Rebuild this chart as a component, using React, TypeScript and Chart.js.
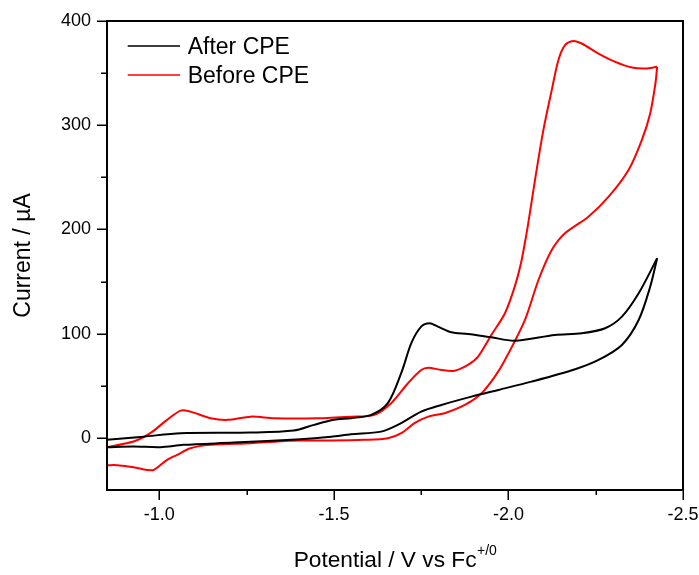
import React, { useEffect, useRef } from "react";
import { Chart, registerables } from "chart.js";

Chart.register(...registerables);

const FONT = '"Liberation Sans", Arial, Helvetica, sans-serif';

// Axis definitions
const xLimits = [-2.5, -0.85];
const yLimits = [-50, 400];
const xMajorTicks = [-1.0, -1.5, -2.0, -2.5];
const xMinorTicks = [-1.25, -1.75, -2.25];
const yMajorTicks = [0, 100, 200, 300, 400];
const yMinorTicks = [50, 150, 250, 350];
const xTitle = "Potential / V vs Fc";
const xTitleSup = "+/0";
const yTitle = "Current / \u00b5A";

// Series
const seriesLabels = ["After CPE", "Before CPE"];
const seriesColors = ["#000000", "#ff0000"];

// After CPE - cathodic (forward) sweep
const afterFwdV = [-0.85, -0.955, -1.061, -1.262, -1.385, -1.443, -1.5, -1.549, -1.607, -1.655, -1.693, -1.722, -1.75, -1.774, -1.798, -1.836, -1.884, -1.951, -2.018, -2.133, -2.21, -2.277, -2.325, -2.373, -2.426];
const afterFwdI = [-1.9, 1.2, 4.5, 5.1, 7.0, 12.5, 17.3, 18.9, 22.1, 33.6, 62.3, 91.1, 106.7, 110, 106.7, 101.3, 99.7, 96.5, 93.3, 98.8, 100.4, 105.2, 116.3, 138.7, 172.3];
// After CPE - return sweep
const afterRevV = [-2.426, -2.406, -2.373, -2.325, -2.258, -2.191, -2.066, -1.971, -1.894, -1.808, -1.75, -1.683, -1.635, -1.549, -1.492, -1.405, -1.213, -1.069, -1.003, -0.926, -0.85];
const afterRevI = [172.3, 145, 113.1, 89.2, 74.8, 65.9, 54.0, 46.0, 39.6, 31.6, 25.2, 12.5, 6.0, 3.5, 1.2, -1.2, -4.5, -6.7, -8.9, -8.3, -8.9];

// Before CPE - cathodic (forward) sweep
const beforeFwdV = [-0.85, -0.926, -0.974, -1.022, -1.061, -1.089, -1.147, -1.195, -1.262, -1.329, -1.453, -1.549, -1.616, -1.664, -1.712, -1.75, -1.77, -1.808, -1.846, -1.884, -1.913, -1.951, -1.99, -2.018, -2.036, -2.052, -2.064, -2.076, -2.1, -2.124, -2.143, -2.162, -2.186, -2.21, -2.258, -2.306, -2.354, -2.392, -2.426];
const beforeFwdI = [-8.9, -3.5, 4.5, 17.3, 26.2, 25.2, 18.9, 17.3, 20.4, 18.9, 18.9, 20.4, 22.1, 33.3, 52.4, 65.2, 67.4, 65.2, 64.5, 70.0, 77.9, 98.8, 119.6, 145.1, 167.8, 196.5, 221.5, 247.4, 295.3, 333.7, 362.4, 376.8, 380.9, 378.4, 368.8, 360.8, 355.4, 354.4, 356.0];
// Before CPE - return sweep
const beforeRevV = [-2.426, -2.421, -2.406, -2.382, -2.344, -2.287, -2.229, -2.162, -2.124, -2.086, -2.047, -1.99, -1.961, -1.923, -1.875, -1.817, -1.77, -1.731, -1.693, -1.655, -1.587, -1.492, -1.405, -1.338, -1.262, -1.147, -1.089, -1.051, -1.022, -0.984, -0.965, -0.926, -0.879, -0.85];
const beforeRevI = [356.0, 340.1, 311.3, 285.7, 257, 231.4, 212.2, 196.3, 180.2, 151.5, 113.1, 74.8, 58.8, 42.9, 31.6, 23.7, 20.4, 14.1, 4.5, -0.3, -1.9, -2.6, -2.6, -3.5, -5.1, -6.7, -9.9, -16.3, -21.1, -30.7, -30.7, -28.1, -26.2, -26.2];

const toPoints = (xs: number[], ys: number[]) => xs.map((x, i) => ({ x, y: ys[i] }));

const decorPlugin = {
  id: "decor",
  afterDatasetsDraw(chart: any) {
    const { ctx, chartArea } = chart;
    const xs = chart.scales.x;
    const ys = chart.scales.y;
    const { left, right, top, bottom } = chartArea;
    ctx.save();
    ctx.strokeStyle = "#000";
    ctx.lineWidth = 2;
    ctx.lineCap = "butt";
    // frame
    ctx.beginPath();
    ctx.moveTo(left, top);
    ctx.lineTo(right, top);
    ctx.lineTo(right, bottom);
    ctx.lineTo(left, bottom);
    ctx.closePath();
    ctx.stroke();
    // ticks
    ctx.lineWidth = 1.5;
    ctx.beginPath();
    yMajorTicks.forEach((v) => {
      const p = Math.round(ys.getPixelForValue(v)) + 0.25;
      ctx.moveTo(left - 10, p);
      ctx.lineTo(left, p);
    });
    yMinorTicks.forEach((v) => {
      const p = Math.round(ys.getPixelForValue(v)) + 0.25;
      ctx.moveTo(left - 6, p);
      ctx.lineTo(left, p);
    });
    xMajorTicks.forEach((v) => {
      const p = Math.round(xs.getPixelForValue(v)) + 0.25;
      ctx.moveTo(p, bottom);
      ctx.lineTo(p, bottom + 10);
    });
    xMinorTicks.forEach((v) => {
      const p = Math.round(xs.getPixelForValue(v)) + 0.25;
      ctx.moveTo(p, bottom);
      ctx.lineTo(p, bottom + 5);
    });
    ctx.stroke();

    // legend
    const legendY = [46, 75];
    const textY = [54, 83.3];
    ctx.font = `23px ${FONT}`;
    ctx.textAlign = "left";
    ctx.textBaseline = "alphabetic";
    seriesLabels.forEach((label, i) => {
      ctx.strokeStyle = seriesColors[i];
      ctx.lineWidth = 1.5;
      ctx.beginPath();
      ctx.moveTo(127.7, legendY[i]);
      ctx.lineTo(180, legendY[i]);
      ctx.stroke();
      ctx.fillStyle = "#000";
      ctx.fillText(label, 187.7, textY[i]);
    });

    // x title with superscript
    ctx.fillStyle = "#000";
    ctx.font = `22.7px ${FONT}`;
    const w1 = ctx.measureText(xTitle).width;
    ctx.font = `14px ${FONT}`;
    const w2 = ctx.measureText(xTitleSup).width;
    const cx = (left + right) / 2;
    const start = cx - (w1 + w2) / 2;
    ctx.font = `22.7px ${FONT}`;
    ctx.fillText(xTitle, start, 566.7);
    ctx.font = `14px ${FONT}`;
    ctx.fillText(xTitleSup, start + w1 + 0.5, 555);

    // y title
    ctx.font = `23px ${FONT}`;
    ctx.translate(30, (top + bottom) / 2);
    ctx.rotate(-Math.PI / 2);
    ctx.textAlign = "center";
    ctx.fillText(yTitle, 0, 0);
    ctx.restore();
  },
};

export default function App() {
  const ref = useRef<HTMLCanvasElement | null>(null);
  useEffect(() => {
    if (!ref.current) return;
    const mk = (xs: number[], ys: number[], color: string) => ({
      data: toPoints(xs, ys),
      borderColor: color,
      backgroundColor: color,
      borderWidth: 2,
      pointRadius: 0,
      tension: 0.3,
      fill: false,
      showLine: true,
    });
    const chart = new Chart(ref.current, {
      type: "scatter",
      data: {
        datasets: [
          mk(afterFwdV, afterFwdI, seriesColors[0]),
          mk(afterRevV, afterRevI, seriesColors[0]),
          mk(beforeFwdV, beforeFwdI, seriesColors[1]),
          mk(beforeRevV, beforeRevI, seriesColors[1]),
        ] as any,
      },
      options: {
        animation: false,
        responsive: false,
        devicePixelRatio: 1,
        layout: { padding: { left: 0, right: 16, top: 21, bottom: 0 } },
        plugins: { legend: { display: false }, tooltip: { enabled: false } },
        scales: {
          x: {
            type: "linear",
            min: xLimits[0],
            max: xLimits[1],
            reverse: true,
            grid: { display: false, drawTicks: false },
            border: { display: false },
            afterBuildTicks: (s: any) => {
              s.ticks = xMajorTicks.map((v) => ({ value: v }));
            },
            afterFit: (s: any) => {
              s.height = 85;
              s.paddingLeft = 0;
              s.paddingRight = 0;
            },
            ticks: {
              color: "#000",
              font: { family: FONT, size: 18 },
              padding: 14,
              maxRotation: 0,
              autoSkip: false,
              callback: (v: any) => Number(v).toFixed(1),
            },
          },
          y: {
            type: "linear",
            min: yLimits[0],
            max: yLimits[1],
            grid: { display: false, drawTicks: false },
            border: { display: false },
            afterBuildTicks: (s: any) => {
              s.ticks = yMajorTicks.map((v) => ({ value: v }));
            },
            afterFit: (s: any) => {
              s.width = 107;
              s.paddingTop = 0;
              s.paddingBottom = 0;
            },
            ticks: {
              color: "#000",
              font: { family: FONT, size: 18 },
              padding: 16,
              autoSkip: false,
              callback: (v: any) => String(v),
            },
          },
        },
      } as any,
      plugins: [decorPlugin],
    });
    return () => chart.destroy();
  }, []);
  return (
    <div style={{ position: "absolute", left: 0, top: 0, width: 699, height: 575, background: "#fff" }}>
      <canvas ref={ref} width={699} height={575} style={{ display: "block", width: 699, height: 575 }} />
    </div>
  );
}
